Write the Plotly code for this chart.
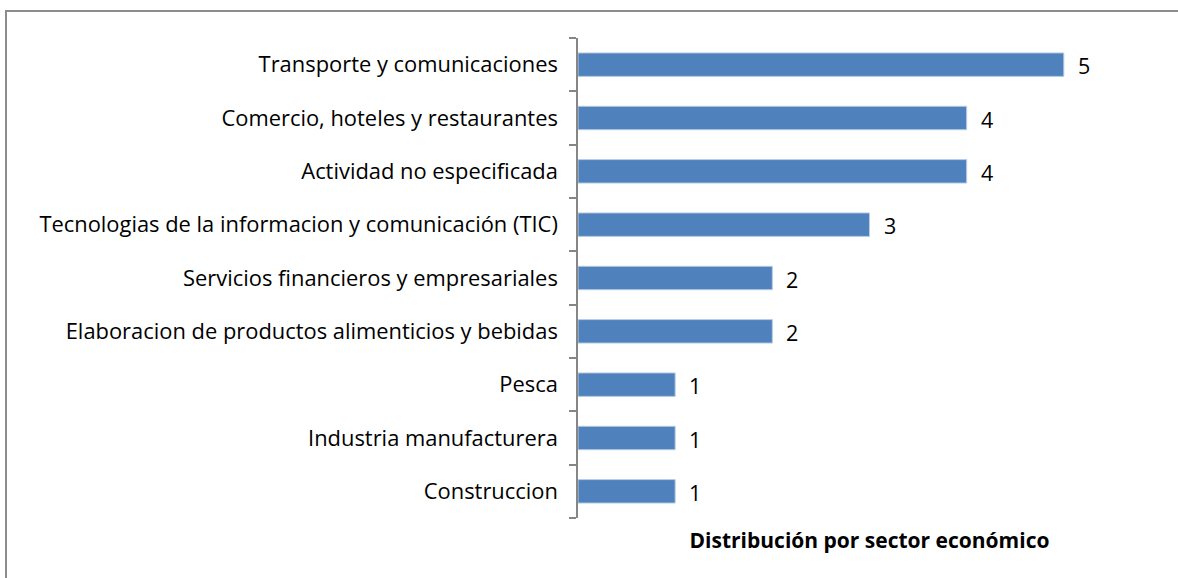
import plotly.graph_objects as go

categories = [
    "Transporte y comunicaciones",
    "Comercio, hoteles y restaurantes",
    "Actividad no especificada",
    "Tecnologias de la informacion y comunicación (TIC)",
    "Servicios financieros y empresariales",
    "Elaboracion de productos alimenticios y bebidas",
    "Pesca",
    "Industria manufacturera",
    "Construccion",
]
values = [5, 4, 4, 3, 2, 2, 1, 1, 1]
title_text = "Distribución por sector económico"

W, H = 1178, 578
ml, mr, mt, mb = 578, 17, 38, 60
pw = W - ml - mr
ph = H - mt - mb
FONT = "Open Sans"

fig = go.Figure(go.Bar(
    x=values, y=categories, orientation="h",
    marker=dict(color="#4F81BD", line=dict(color="#B9CDE5", width=1)),
    width=0.44,
))

for v, c in zip(values, categories):
    fig.add_annotation(x=v, y=c, text=str(v), showarrow=False,
                       xanchor="left", yshift=-1, xshift=12,
                       font=dict(size=21.5, color="#000000", family=FONT))

# outer chart border
fig.add_shape(type="rect", xref="paper", yref="paper",
              x0=(6 - ml) / pw, x1=(W + 20 - ml) / pw,
              y0=(H - (H + 20) - mb) / ph, y1=(H - 11 - mb) / ph,
              line=dict(color="#8C8C8C", width=2), fillcolor="rgba(0,0,0,0)",
              layer="below")

fig.update_layout(
    width=W, height=H,
    margin=dict(l=ml, r=mr, t=mt, b=mb),
    paper_bgcolor="white", plot_bgcolor="white",
    showlegend=False,
    font=dict(family=FONT, size=20, color="#000000"),
    xaxis=dict(range=[0, 6], showgrid=False, zeroline=False, showline=False,
               showticklabels=False, ticks="",
               title=dict(text="<b>" + title_text + "</b>", standoff=15,
                          font=dict(size=21, family=FONT, color="#000000"))),
    yaxis=dict(categoryorder="array", categoryarray=categories[::-1],
               showline=True, linecolor="#868686", linewidth=1.5,
               ticks="outside", tickson="boundaries", ticklen=7,
               tickcolor="#868686", tickwidth=1.5,
               showgrid=False, zeroline=False, ticklabelstandoff=14,
               automargin=False,
               tickfont=dict(size=21.9, family=FONT, color="#000000")),
)

fig.write_html("out.html", config={"displayModeBar": False},
               post_script="document.body.style.margin='0';")
